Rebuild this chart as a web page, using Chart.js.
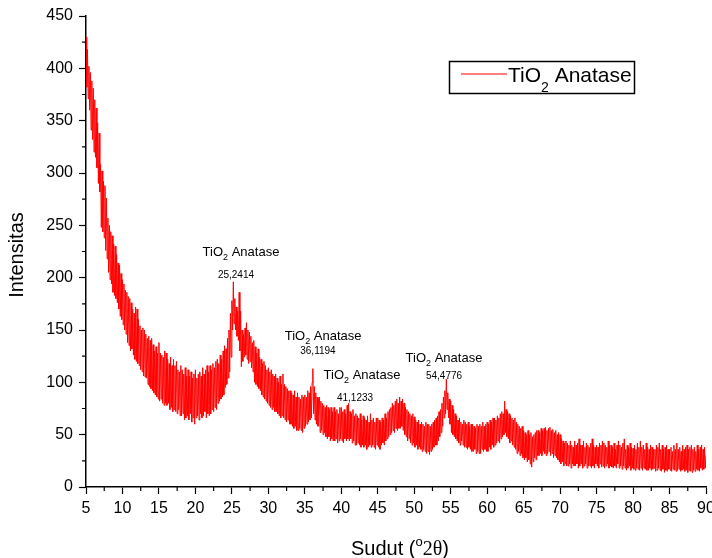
<!DOCTYPE html>
<html>
<head>
<meta charset="utf-8">
<script src="https://cdn.jsdelivr.net/npm/chart.js@4.4.1/dist/chart.umd.min.js"></script>
<style>
  html, body { margin: 0; padding: 0; background: #fff; }
  #wrap { width: 712px; height: 558px; }
</style>
</head>
<body>
<div id="wrap"><canvas id="xrd"></canvas></div>
<script>
// scan settings (degrees 2-theta)
const angleStart = 5;
const angleStep = 0.1;

// intensity, one row per degree (x.0 ... x.9), 5 to 90
const intensity = [
  430, 382, 418, 371, 402, 360, 396, 341, 388, 332,  // 5
  381, 320, 370, 315, 362, 305, 348, 290, 338, 282,  // 6
  308, 248, 302, 244, 292, 238, 288, 226, 276, 218,  // 7
  257, 205, 250, 198, 244, 194, 240, 186, 232, 183,  // 8
  230, 180, 222, 176, 214, 170, 212, 163, 204, 160,  // 9
  198, 155, 194, 150, 188, 146, 186, 138, 182, 135,  // 10
  180, 130, 176, 132, 170, 126, 166, 122, 172, 120,  // 11
  170, 118, 160, 116, 154, 112, 150, 110, 152, 106,  // 12
  150, 105, 146, 104, 142, 98, 144, 96, 140, 94,     // 13
  142, 92, 136, 90, 130, 88, 134, 86, 128, 84,       // 14
  138, 82, 128, 84, 126, 80, 124, 78, 130, 80,       // 15
  128, 78, 122, 80, 118, 74, 124, 76, 116, 72,       // 16
  122, 74, 116, 72, 120, 70, 112, 74, 110, 68,       // 17
  116, 68, 112, 70, 108, 64, 114, 66, 106, 68,       // 18
  112, 64, 106, 70, 110, 62, 104, 66, 108, 60,       // 19
  112, 66, 104, 68, 108, 64, 110, 70, 106, 66,       // 20
  114, 68, 108, 72, 112, 66, 116, 70, 110, 68,       // 21
  116, 70, 112, 74, 118, 72, 114, 76, 120, 74,       // 22
  122, 80, 118, 82, 126, 84, 122, 86, 130, 88,       // 23
  135, 95, 132, 98, 142, 104, 150, 110, 166, 124,    // 24
  178, 150, 196, 156, 180, 150, 172, 144, 168, 140,  // 25
  186, 130, 168, 115, 150, 120, 146, 124, 152, 126,  // 26
  157, 122, 150, 118, 148, 120, 144, 114, 138, 110,  // 27
  140, 100, 134, 98, 128, 96, 132, 94, 124, 92,      // 28
  122, 88, 118, 86, 120, 84, 116, 82, 112, 80,       // 29
  114, 78, 110, 76, 112, 74, 108, 76, 106, 72,       // 30
  108, 72, 104, 70, 100, 68, 106, 66, 98, 68,        // 31
  108, 66, 98, 64, 96, 62, 94, 64, 92, 60,           // 32
  92, 60, 90, 58, 88, 56, 92, 58, 86, 54,            // 33
  90, 54, 86, 56, 84, 54, 88, 52, 86, 56,            // 34
  88, 58, 86, 60, 92, 62, 90, 64, 96, 66,            // 35
  100, 113, 70, 96, 64, 90, 60, 86, 58, 84,          // 36
  86, 52, 82, 54, 80, 50, 78, 52, 76, 48,            // 37
  78, 46, 76, 48, 74, 44, 76, 46, 72, 44,            // 38
  76, 44, 72, 46, 74, 42, 70, 44, 76, 46,            // 39
  76, 44, 72, 42, 74, 46, 70, 44, 78, 46,            // 40
  80, 44, 72, 46, 70, 42, 74, 44, 68, 40,            // 41
  70, 40, 68, 42, 66, 40, 70, 38, 64, 40,            // 42
  68, 38, 66, 40, 64, 36, 68, 38, 62, 40,            // 43
  70, 38, 64, 40, 66, 38, 62, 36, 66, 40,            // 44
  66, 38, 64, 36, 62, 40, 66, 42, 64, 40,            // 45
  70, 44, 66, 46, 72, 48, 74, 50, 76, 52,            // 46
  80, 54, 78, 52, 82, 56, 84, 54, 80, 56,            // 47
  86, 56, 82, 58, 84, 54, 80, 50, 76, 48,            // 48
  74, 44, 72, 46, 70, 42, 68, 40, 70, 42,            // 49
  67, 38, 64, 40, 62, 36, 64, 38, 60, 36,            // 50
  62, 34, 60, 36, 58, 34, 62, 32, 60, 34,            // 51
  60, 31, 58, 34, 60, 36, 62, 38, 64, 40,            // 52
  66, 40, 68, 44, 72, 48, 74, 52, 80, 58,            // 53
  86, 66, 92, 70, 103, 74, 90, 66, 84, 60,           // 54
  82, 52, 78, 50, 74, 48, 70, 46, 68, 44,            // 55
  64, 42, 66, 40, 62, 44, 60, 40, 64, 38,            // 56
  62, 38, 60, 36, 62, 38, 58, 36, 60, 34,            // 57
  60, 34, 58, 36, 56, 32, 60, 34, 58, 32,            // 58
  60, 32, 58, 36, 62, 34, 58, 36, 60, 34,            // 59
  62, 34, 60, 38, 64, 36, 62, 40, 66, 38,            // 60
  66, 40, 64, 42, 68, 44, 66, 42, 70, 46,            // 61
  72, 48, 70, 50, 82, 52, 74, 48, 72, 46,            // 62
  70, 42, 68, 44, 66, 40, 64, 38, 66, 36,            // 63
  62, 32, 60, 34, 58, 30, 56, 32, 58, 28,            // 64
  54, 26, 52, 28, 50, 24, 54, 26, 50, 22,            // 65
  52, 19, 48, 24, 50, 28, 52, 26, 54, 30,            // 66
  54, 30, 52, 32, 56, 30, 54, 34, 56, 32,            // 67
  57, 30, 54, 32, 56, 34, 57, 30, 54, 32,            // 68
  55, 28, 52, 30, 54, 28, 50, 26, 52, 24,            // 69
  50, 22, 46, 24, 44, 20, 42, 22, 44, 20,            // 70
  42, 20, 40, 22, 44, 18, 40, 22, 38, 20,            // 71
  44, 20, 40, 22, 42, 18, 46, 20, 40, 22,            // 72
  40, 18, 44, 20, 38, 22, 42, 18, 40, 20,            // 73
  38, 20, 42, 18, 46, 20, 40, 18, 38, 22,            // 74
  40, 20, 38, 18, 42, 22, 40, 19, 44, 20,            // 75
  42, 18, 40, 20, 38, 22, 44, 18, 40, 20,            // 76
  40, 19, 38, 18, 42, 20, 36, 18, 40, 22,            // 77
  44, 18, 40, 20, 38, 17, 42, 20, 46, 18,            // 78
  36, 16, 40, 18, 38, 20, 42, 16, 38, 18,            // 79
  37, 17, 40, 16, 36, 18, 42, 17, 38, 16,            // 80
  44, 18, 38, 16, 40, 18, 36, 17, 42, 16,            // 81
  38, 16, 36, 18, 40, 16, 38, 17, 36, 18,            // 82
  36, 15, 40, 16, 38, 18, 42, 16, 36, 15,            // 83
  40, 17, 36, 14, 38, 16, 40, 15, 36, 17,            // 84
  36, 16, 38, 15, 34, 17, 40, 16, 36, 15,            // 85
  42, 16, 36, 17, 38, 15, 34, 16, 40, 17,            // 86
  36, 15, 38, 16, 40, 14, 36, 16, 38, 15,            // 87
  40, 14, 36, 16, 38, 15, 34, 17, 40, 16,            // 88
  36, 15, 38, 18, 40, 16, 36, 17, 38, 18,            // 89
  30                                                 // 90
];

// peak labels (2-theta values as printed)
const peakLabels = ['25,2414', '36,1194', '41,1233', '54,4776'];
const phaseName = 'Anatase';
const seriesName = 'TiO2 Anatase';

const points = intensity.map((v, i) => ({ x: +(angleStart + i * angleStep).toFixed(2), y: v }));

const SANS = '"Liberation Sans", Arial, sans-serif';
const SERIF = '"Liberation Serif", "Times New Roman", serif';

// draws "TiO" + subscript 2 + " Anatase" centred on cx
function drawTiO2(ctx, cx, baseline, size) {
  const sub = Math.round(size * 0.66);
  ctx.font = size + 'px ' + SANS;
  const w1 = ctx.measureText('TiO').width;
  const w3 = ctx.measureText(' ' + phaseName).width;
  ctx.font = sub + 'px ' + SANS;
  const w2 = ctx.measureText('2').width;
  const x = cx - (w1 + w2 + w3) / 2;
  ctx.textAlign = 'left';
  ctx.textBaseline = 'alphabetic';
  ctx.font = size + 'px ' + SANS;
  ctx.fillText('TiO', x, baseline);
  ctx.font = sub + 'px ' + SANS;
  ctx.fillText('2', x + w1, baseline + size * 0.3);
  ctx.font = size + 'px ' + SANS;
  ctx.fillText(' ' + phaseName, x + w1 + w2, baseline);
}

const decorations = {
  id: 'decorations',
  afterDraw(chart) {
    const ctx = chart.ctx;
    const xs = chart.scales.x, ys = chart.scales.y;
    ctx.save();
    ctx.fillStyle = '#000';
    ctx.strokeStyle = '#000';

    // minor ticks
    ctx.lineWidth = 1.2;
    ctx.beginPath();
    for (let v = 7.5; v < 90; v += 5) {
      const px = xs.getPixelForValue(v);
      ctx.moveTo(px, xs.top); ctx.lineTo(px, xs.top + 4);
    }
    for (let v = 25; v < 450; v += 50) {
      const py = ys.getPixelForValue(v);
      ctx.moveTo(ys.right, py); ctx.lineTo(ys.right - 4, py);
    }
    ctx.stroke();

    // peak annotations: [title x, title y, number x, number y] in data units
    const spots = [
      [26.25, 221, 25.56, 200],
      [37.5, 140, 36.8, 127],
      [42.84, 103, 41.88, 82],
      [54.08, 119, 54.08, 103]
    ];
    spots.forEach((s, i) => {
      drawTiO2(ctx, xs.getPixelForValue(s[0]), ys.getPixelForValue(s[1]), 13);
      ctx.font = '10px ' + SANS;
      ctx.textAlign = 'center';
      ctx.fillText(peakLabels[i], xs.getPixelForValue(s[2]), ys.getPixelForValue(s[3]));
    });

    // legend box
    ctx.lineWidth = 1.5;
    ctx.strokeRect(449.5, 61.5, 185, 32);
    ctx.strokeStyle = '#ff0000';
    ctx.lineWidth = 1.2;
    ctx.beginPath();
    ctx.moveTo(461, 74); ctx.lineTo(507, 74);
    ctx.stroke();
    ctx.font = '21px ' + SANS;
    const lw = ctx.measureText('TiO').width;
    ctx.textAlign = 'left';
    ctx.fillText('TiO', 508, 82);
    ctx.font = '14px ' + SANS;
    ctx.fillText('2', 508 + lw, 92);
    const sw = ctx.measureText('2').width;
    ctx.font = '21px ' + SANS;
    ctx.fillText(' ' + phaseName, 508 + lw + sw, 82);

    // y axis title
    ctx.save();
    ctx.translate(23, 255);
    ctx.rotate(-Math.PI / 2);
    ctx.font = '20px ' + SANS;
    ctx.textAlign = 'center';
    ctx.fillText('Intensitas', 0, 0);
    ctx.restore();

    // x axis title: Sudut (°2θ)
    const parts = [
      ['Sudut (', '20px ' + SANS, 0],
      ['o', '13px ' + SANS, -9],
      ['2θ', '20px ' + SERIF, 0],
      [')', '20px ' + SANS, 0]
    ];
    let total = 0;
    parts.forEach(p => { ctx.font = p[1]; p.push(ctx.measureText(p[0]).width); total += p[3]; });
    let x = 400 - total / 2;
    ctx.textAlign = 'left';
    parts.forEach(p => { ctx.font = p[1]; ctx.fillText(p[0], x, 555 + p[2]); x += p[3]; });

    ctx.restore();
  }
};

new Chart(document.getElementById('xrd'), {
  type: 'line',
  data: {
    datasets: [{
      label: seriesName,
      data: points,
      borderColor: '#ff0000',
      borderWidth: 1,
      pointRadius: 0,
      tension: 0,
      fill: false
    }]
  },
  options: {
    responsive: true,
    maintainAspectRatio: false,
    animation: false,
    layout: { autoPadding: false, padding: { top: 16, right: 6, left: 0, bottom: 0 } },
    plugins: { legend: { display: false }, tooltip: { enabled: false } },
    scales: {
      x: {
        type: 'linear',
        min: 5, max: 90,
        afterFit(s) { s.height = 71; s.paddingLeft = 0; s.paddingRight = 0; },
        border: { display: true, color: '#000', width: 1.5 },
        grid: { drawOnChartArea: false, drawTicks: true, tickLength: 7, tickColor: '#000', tickWidth: 1.2 },
        ticks: { stepSize: 5, color: '#000', font: { family: SANS, size: 16 }, padding: 5, maxRotation: 0, autoSkip: false }
      },
      y: {
        min: 0, max: 450,
        afterFit(s) { s.width = 86; s.paddingTop = 0; s.paddingBottom = 0; },
        border: { display: true, color: '#000', width: 1.5 },
        grid: { drawOnChartArea: false, drawTicks: true, tickLength: 7, tickColor: '#000', tickWidth: 1.2 },
        ticks: { stepSize: 50, color: '#000', font: { family: SANS, size: 16 }, padding: 6 }
      }
    }
  },
  plugins: [decorations]
});
</script>
</body>
</html>
